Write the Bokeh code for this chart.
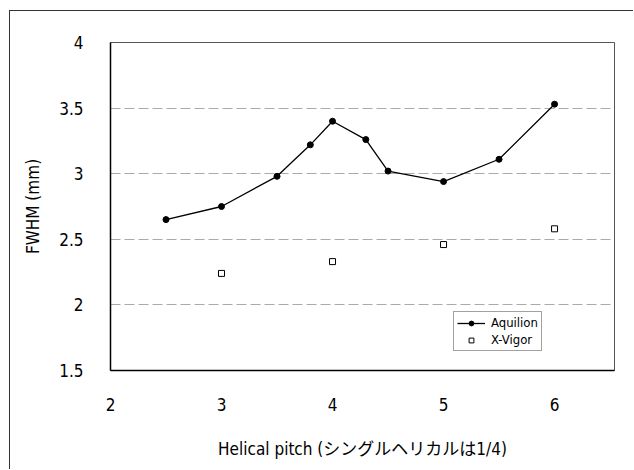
from bokeh.plotting import figure
from bokeh.embed import file_html
from bokeh.resources import INLINE
from bokeh.layouts import column
from bokeh.models import Range1d, FixedTicker, Legend, LegendItem

# Data
aquilion_x = [2.5, 3.0, 3.5, 3.8, 4.0, 4.3, 4.5, 5.0, 5.5, 6.0]
aquilion_y = [2.65, 2.75, 2.98, 3.22, 3.40, 3.26, 3.02, 2.94, 3.11, 3.53]
xvigor_x = [3.0, 4.0, 5.0, 6.0]
xvigor_y = [2.24, 2.33, 2.46, 2.58]
x_ticks = [2, 3, 4, 5, 6]
x_tick_labels = ["2", "3", "4", "5", "6"]
y_ticks = [1.5, 2.0, 2.5, 3.0, 3.5, 4.0]
y_tick_labels = ["1.5", "2", "2.5", "3", "3.5", "4"]

NARROW = "DejaVu Sans Condensed, Liberation Sans, Noto Sans CJK JP, sans-serif"

p = figure(width=623, height=458, output_backend="svg", toolbar_location=None,
           x_range=Range1d(2, 6.54), y_range=Range1d(1.5, 4.0),
           min_border_left=100, min_border_right=19, min_border_top=31, min_border_bottom=99)

p.outline_line_color = "#555555"
p.outline_line_width = 1

p.xaxis.ticker = FixedTicker(ticks=x_ticks)
p.yaxis.ticker = FixedTicker(ticks=y_ticks)
p.xaxis.major_label_overrides = {t: l for t, l in zip(x_ticks, x_tick_labels)}
p.yaxis.major_label_overrides = {t: l for t, l in zip(y_ticks, y_tick_labels)}

for ax in (p.xaxis, p.yaxis):
    ax.major_tick_line_color = None
    ax.minor_tick_line_color = None
    ax.major_tick_out = 0
    ax.major_tick_in = 0
    ax.minor_tick_out = 0
    ax.axis_line_color = "black"
    ax.axis_line_width = 1.5
    ax.major_label_text_font = NARROW
    ax.major_label_text_font_size = "17px"
    ax.major_label_text_color = "black"
    ax.axis_label_text_font = NARROW
    ax.axis_label_text_font_size = "17px"
    ax.axis_label_text_font_style = "normal"
    ax.axis_label_text_color = "black"

p.xaxis.major_label_standoff = 27
p.yaxis.major_label_standoff = 27
p.xaxis.axis_label = "Helical pitch (シングルヘリカルは1/4)"
p.yaxis.axis_label = "FWHM (mm)"
p.xaxis.axis_label_standoff = 25
p.yaxis.axis_label_standoff = 13

p.xgrid.grid_line_color = None
p.ygrid.grid_line_color = "#aaaaaa"
p.ygrid.grid_line_width = 1
p.ygrid.grid_line_dash = "10 4"

r_line = p.line(aquilion_x, aquilion_y, line_color="black", line_width=1.3)
r_pts = p.scatter(aquilion_x, aquilion_y, marker="circle", size=6, fill_color="black", line_color="black")
r_sq = p.scatter(xvigor_x, xvigor_y, marker="square", size=6, fill_color="white", line_color="black", line_width=1)

legend = Legend(items=[LegendItem(label="Aquilion", renderers=[r_line, r_pts]),
                       LegendItem(label="X-Vigor", renderers=[r_sq])],
                location=(343, 19))
legend.border_line_color = "#444444"
legend.border_line_width = 1
legend.background_fill_color = "white"
legend.label_text_font = NARROW
legend.label_text_font_size = "13px"
legend.label_text_color = "black"
legend.glyph_width = 28
legend.glyph_height = 12
legend.label_height = 12
legend.spacing = 2
legend.padding = 3
legend.margin = 0
legend.label_standoff = 6
p.add_layout(legend, "center")

page = column(p, margin=(10, 0, 0, 9),
              styles={"border-left": "1.5px solid #333333", "border-top": "1.5px solid #333333"})

open("out.html", "w").write(file_html(page, INLINE))
